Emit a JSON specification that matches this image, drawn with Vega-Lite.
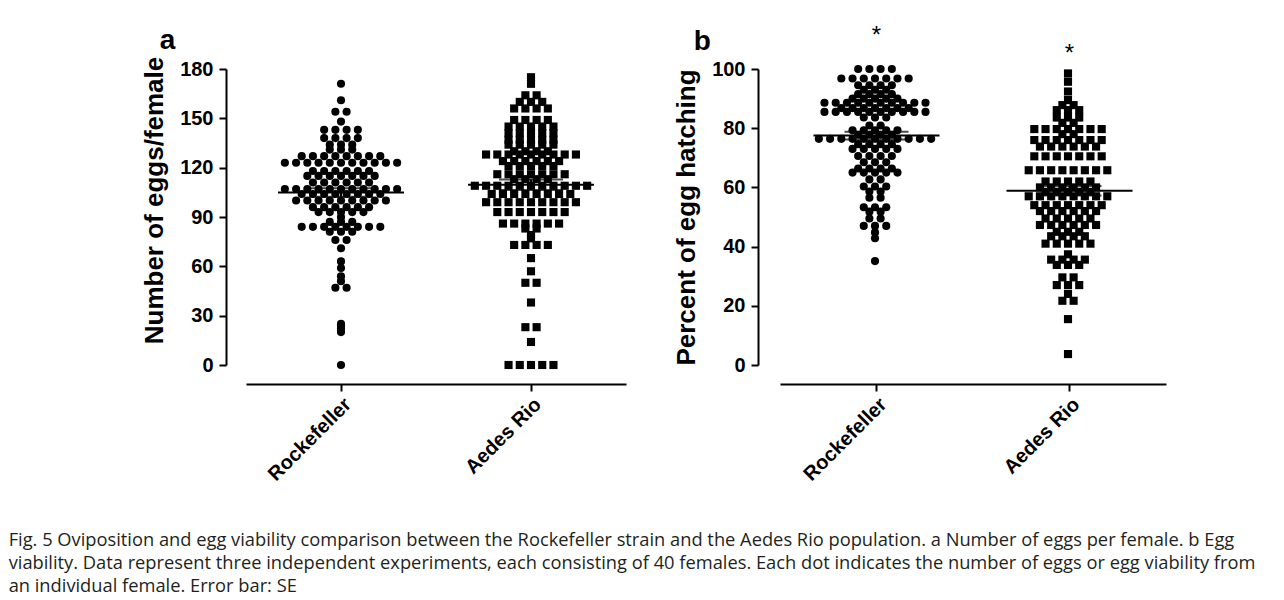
{
"$schema": "https://vega.github.io/schema/vega-lite/v6.json",
"background": "white",
"padding": {"left": 8, "top": 24, "right": 5, "bottom": 5},
"spacing": 47,
"config": {
  "view": {"stroke": null},
  "font": "Liberation Sans",
  "axis": {"domainColor": "black", "domainWidth": 2, "tickColor": "black", "tickWidth": 2, "tickSize": 7, "ticks": true, "labelFont": "Liberation Sans", "labelFontWeight": "bold", "labelFontSize": 20, "labelColor": "black", "titleFont": "Liberation Sans", "titleFontWeight": "bold", "titleFontSize": 26, "titleColor": "black", "grid": false},
  "axisX": {"labelAngle": -45, "offset": 19, "labelPadding": 3, "tickBand": "center", "ticks": true, "tickSize": 7},
  "axisY": {"labelPadding": 6, "titlePadding": 12}
},
"title": {
  "text": ["Fig. 5  Oviposition and egg viability comparison between the Rockefeller strain and the Aedes Rio population. a Number of eggs per female. b Egg", "viability. Data represent three independent experiments, each consisting of 40 females. Each dot indicates the number of eggs or egg viability from", "an individual female. Error bar: SE"],
  "orient": "bottom", "anchor": "start", "frame": "bounds", "font": "Open Sans", "fontSize": 18.3, "fontWeight": "normal", "color": "#231f20", "lineHeight": 23, "dx": -133, "offset": 48
},
"datasets": {
"eggs": [
{"group":"Rockefeller","eggs":171},{"group":"Rockefeller","eggs":161},{"group":"Rockefeller","eggs":154},{"group":"Rockefeller","eggs":154},{"group":"Rockefeller","eggs":148},
{"group":"Rockefeller","eggs":143},{"group":"Rockefeller","eggs":143},{"group":"Rockefeller","eggs":143},{"group":"Rockefeller","eggs":143},
{"group":"Rockefeller","eggs":138},{"group":"Rockefeller","eggs":138},{"group":"Rockefeller","eggs":138},{"group":"Rockefeller","eggs":138},
{"group":"Rockefeller","eggs":134},{"group":"Rockefeller","eggs":134},{"group":"Rockefeller","eggs":134},
{"group":"Rockefeller","eggs":131},{"group":"Rockefeller","eggs":131},{"group":"Rockefeller","eggs":131},
{"group":"Rockefeller","eggs":127},{"group":"Rockefeller","eggs":127},{"group":"Rockefeller","eggs":127},{"group":"Rockefeller","eggs":127},{"group":"Rockefeller","eggs":127},{"group":"Rockefeller","eggs":127},{"group":"Rockefeller","eggs":127},{"group":"Rockefeller","eggs":127},
{"group":"Rockefeller","eggs":123},{"group":"Rockefeller","eggs":123},{"group":"Rockefeller","eggs":123},{"group":"Rockefeller","eggs":123},{"group":"Rockefeller","eggs":123},{"group":"Rockefeller","eggs":123},{"group":"Rockefeller","eggs":123},{"group":"Rockefeller","eggs":123},{"group":"Rockefeller","eggs":123},{"group":"Rockefeller","eggs":123},{"group":"Rockefeller","eggs":123},
{"group":"Rockefeller","eggs":118},{"group":"Rockefeller","eggs":118},{"group":"Rockefeller","eggs":118},{"group":"Rockefeller","eggs":118},{"group":"Rockefeller","eggs":118},{"group":"Rockefeller","eggs":118},
{"group":"Rockefeller","eggs":115},{"group":"Rockefeller","eggs":115},{"group":"Rockefeller","eggs":115},{"group":"Rockefeller","eggs":115},{"group":"Rockefeller","eggs":115},{"group":"Rockefeller","eggs":115},{"group":"Rockefeller","eggs":115},
{"group":"Rockefeller","eggs":111},{"group":"Rockefeller","eggs":111},{"group":"Rockefeller","eggs":111},{"group":"Rockefeller","eggs":111},{"group":"Rockefeller","eggs":111},{"group":"Rockefeller","eggs":111},
{"group":"Rockefeller","eggs":107},{"group":"Rockefeller","eggs":107},{"group":"Rockefeller","eggs":107},{"group":"Rockefeller","eggs":107},{"group":"Rockefeller","eggs":107},{"group":"Rockefeller","eggs":107},{"group":"Rockefeller","eggs":107},{"group":"Rockefeller","eggs":107},{"group":"Rockefeller","eggs":107},{"group":"Rockefeller","eggs":107},{"group":"Rockefeller","eggs":107},
{"group":"Rockefeller","eggs":104},{"group":"Rockefeller","eggs":104},{"group":"Rockefeller","eggs":104},{"group":"Rockefeller","eggs":104},{"group":"Rockefeller","eggs":104},{"group":"Rockefeller","eggs":104},{"group":"Rockefeller","eggs":104},{"group":"Rockefeller","eggs":104},
{"group":"Rockefeller","eggs":100},{"group":"Rockefeller","eggs":100},{"group":"Rockefeller","eggs":100},{"group":"Rockefeller","eggs":100},{"group":"Rockefeller","eggs":100},{"group":"Rockefeller","eggs":100},{"group":"Rockefeller","eggs":100},{"group":"Rockefeller","eggs":100},{"group":"Rockefeller","eggs":100},
{"group":"Rockefeller","eggs":96},{"group":"Rockefeller","eggs":96},{"group":"Rockefeller","eggs":96},{"group":"Rockefeller","eggs":96},{"group":"Rockefeller","eggs":96},{"group":"Rockefeller","eggs":96},
{"group":"Rockefeller","eggs":93},{"group":"Rockefeller","eggs":93},{"group":"Rockefeller","eggs":93},{"group":"Rockefeller","eggs":93},{"group":"Rockefeller","eggs":93},
{"group":"Rockefeller","eggs":90},
{"group":"Rockefeller","eggs":87},{"group":"Rockefeller","eggs":87},{"group":"Rockefeller","eggs":87},
{"group":"Rockefeller","eggs":84},{"group":"Rockefeller","eggs":84},{"group":"Rockefeller","eggs":84},{"group":"Rockefeller","eggs":84},{"group":"Rockefeller","eggs":84},{"group":"Rockefeller","eggs":84},{"group":"Rockefeller","eggs":84},{"group":"Rockefeller","eggs":84},
{"group":"Rockefeller","eggs":81},{"group":"Rockefeller","eggs":81},{"group":"Rockefeller","eggs":81},
{"group":"Rockefeller","eggs":76},{"group":"Rockefeller","eggs":76},{"group":"Rockefeller","eggs":71},{"group":"Rockefeller","eggs":63},{"group":"Rockefeller","eggs":59},{"group":"Rockefeller","eggs":54},{"group":"Rockefeller","eggs":51},{"group":"Rockefeller","eggs":47},{"group":"Rockefeller","eggs":47},
{"group":"Rockefeller","eggs":25},{"group":"Rockefeller","eggs":24},{"group":"Rockefeller","eggs":22},{"group":"Rockefeller","eggs":20},{"group":"Rockefeller","eggs":0},
{"group":"Aedes Rio","eggs":175},{"group":"Aedes Rio","eggs":171},{"group":"Aedes Rio","eggs":164},{"group":"Aedes Rio","eggs":164},
{"group":"Aedes Rio","eggs":160},{"group":"Aedes Rio","eggs":160},{"group":"Aedes Rio","eggs":160},
{"group":"Aedes Rio","eggs":156},{"group":"Aedes Rio","eggs":156},{"group":"Aedes Rio","eggs":156},{"group":"Aedes Rio","eggs":156},
{"group":"Aedes Rio","eggs":149},{"group":"Aedes Rio","eggs":149},{"group":"Aedes Rio","eggs":149},{"group":"Aedes Rio","eggs":149},
{"group":"Aedes Rio","eggs":145},{"group":"Aedes Rio","eggs":145},{"group":"Aedes Rio","eggs":145},{"group":"Aedes Rio","eggs":145},{"group":"Aedes Rio","eggs":145},
{"group":"Aedes Rio","eggs":141},{"group":"Aedes Rio","eggs":141},{"group":"Aedes Rio","eggs":141},{"group":"Aedes Rio","eggs":141},{"group":"Aedes Rio","eggs":141},
{"group":"Aedes Rio","eggs":137},{"group":"Aedes Rio","eggs":137},{"group":"Aedes Rio","eggs":137},{"group":"Aedes Rio","eggs":137},{"group":"Aedes Rio","eggs":137},
{"group":"Aedes Rio","eggs":134},{"group":"Aedes Rio","eggs":134},{"group":"Aedes Rio","eggs":134},{"group":"Aedes Rio","eggs":134},{"group":"Aedes Rio","eggs":134},
{"group":"Aedes Rio","eggs":130},{"group":"Aedes Rio","eggs":130},{"group":"Aedes Rio","eggs":130},{"group":"Aedes Rio","eggs":130},
{"group":"Aedes Rio","eggs":128},{"group":"Aedes Rio","eggs":128},{"group":"Aedes Rio","eggs":128},{"group":"Aedes Rio","eggs":128},{"group":"Aedes Rio","eggs":128},{"group":"Aedes Rio","eggs":128},{"group":"Aedes Rio","eggs":128},{"group":"Aedes Rio","eggs":128},{"group":"Aedes Rio","eggs":128},
{"group":"Aedes Rio","eggs":124},{"group":"Aedes Rio","eggs":124},{"group":"Aedes Rio","eggs":124},{"group":"Aedes Rio","eggs":124},{"group":"Aedes Rio","eggs":124},{"group":"Aedes Rio","eggs":124},
{"group":"Aedes Rio","eggs":121},{"group":"Aedes Rio","eggs":121},{"group":"Aedes Rio","eggs":121},{"group":"Aedes Rio","eggs":121},{"group":"Aedes Rio","eggs":121},
{"group":"Aedes Rio","eggs":116},{"group":"Aedes Rio","eggs":116},{"group":"Aedes Rio","eggs":116},{"group":"Aedes Rio","eggs":116},{"group":"Aedes Rio","eggs":116},{"group":"Aedes Rio","eggs":116},{"group":"Aedes Rio","eggs":116},
{"group":"Aedes Rio","eggs":113},{"group":"Aedes Rio","eggs":113},{"group":"Aedes Rio","eggs":113},{"group":"Aedes Rio","eggs":113},
{"group":"Aedes Rio","eggs":109},{"group":"Aedes Rio","eggs":109},{"group":"Aedes Rio","eggs":109},{"group":"Aedes Rio","eggs":109},{"group":"Aedes Rio","eggs":109},{"group":"Aedes Rio","eggs":109},{"group":"Aedes Rio","eggs":109},{"group":"Aedes Rio","eggs":109},{"group":"Aedes Rio","eggs":109},{"group":"Aedes Rio","eggs":109},{"group":"Aedes Rio","eggs":109},
{"group":"Aedes Rio","eggs":104},{"group":"Aedes Rio","eggs":104},{"group":"Aedes Rio","eggs":104},{"group":"Aedes Rio","eggs":104},{"group":"Aedes Rio","eggs":104},{"group":"Aedes Rio","eggs":104},{"group":"Aedes Rio","eggs":104},{"group":"Aedes Rio","eggs":104},
{"group":"Aedes Rio","eggs":99},{"group":"Aedes Rio","eggs":99},{"group":"Aedes Rio","eggs":99},{"group":"Aedes Rio","eggs":99},{"group":"Aedes Rio","eggs":99},{"group":"Aedes Rio","eggs":99},{"group":"Aedes Rio","eggs":99},{"group":"Aedes Rio","eggs":99},{"group":"Aedes Rio","eggs":99},
{"group":"Aedes Rio","eggs":93},{"group":"Aedes Rio","eggs":93},{"group":"Aedes Rio","eggs":93},{"group":"Aedes Rio","eggs":93},{"group":"Aedes Rio","eggs":93},{"group":"Aedes Rio","eggs":93},{"group":"Aedes Rio","eggs":93},
{"group":"Aedes Rio","eggs":86},{"group":"Aedes Rio","eggs":86},{"group":"Aedes Rio","eggs":86},{"group":"Aedes Rio","eggs":86},{"group":"Aedes Rio","eggs":86},{"group":"Aedes Rio","eggs":86},
{"group":"Aedes Rio","eggs":83},{"group":"Aedes Rio","eggs":83},{"group":"Aedes Rio","eggs":79},{"group":"Aedes Rio","eggs":77},
{"group":"Aedes Rio","eggs":73},{"group":"Aedes Rio","eggs":73},{"group":"Aedes Rio","eggs":73},{"group":"Aedes Rio","eggs":73},
{"group":"Aedes Rio","eggs":65},{"group":"Aedes Rio","eggs":57},{"group":"Aedes Rio","eggs":50},{"group":"Aedes Rio","eggs":50},{"group":"Aedes Rio","eggs":38},{"group":"Aedes Rio","eggs":23},{"group":"Aedes Rio","eggs":23},{"group":"Aedes Rio","eggs":14},
{"group":"Aedes Rio","eggs":0},{"group":"Aedes Rio","eggs":0},{"group":"Aedes Rio","eggs":0},{"group":"Aedes Rio","eggs":0},{"group":"Aedes Rio","eggs":0}
],
"hatching": [
{"group":"Rockefeller","hatch":100},{"group":"Rockefeller","hatch":100},{"group":"Rockefeller","hatch":100},{"group":"Rockefeller","hatch":100},
{"group":"Rockefeller","hatch":96.8},{"group":"Rockefeller","hatch":96.8},{"group":"Rockefeller","hatch":96.8},{"group":"Rockefeller","hatch":96.8},{"group":"Rockefeller","hatch":96.8},{"group":"Rockefeller","hatch":96.8},{"group":"Rockefeller","hatch":96.8},
{"group":"Rockefeller","hatch":94.5},{"group":"Rockefeller","hatch":94.5},{"group":"Rockefeller","hatch":94.5},{"group":"Rockefeller","hatch":94.5},
{"group":"Rockefeller","hatch":93},{"group":"Rockefeller","hatch":93},{"group":"Rockefeller","hatch":93},
{"group":"Rockefeller","hatch":91.5},{"group":"Rockefeller","hatch":91.5},{"group":"Rockefeller","hatch":91.5},{"group":"Rockefeller","hatch":91.5},
{"group":"Rockefeller","hatch":90},{"group":"Rockefeller","hatch":90},{"group":"Rockefeller","hatch":90},{"group":"Rockefeller","hatch":90},{"group":"Rockefeller","hatch":90},
{"group":"Rockefeller","hatch":88.6},{"group":"Rockefeller","hatch":88.6},{"group":"Rockefeller","hatch":88.6},{"group":"Rockefeller","hatch":88.6},{"group":"Rockefeller","hatch":88.6},{"group":"Rockefeller","hatch":88.6},{"group":"Rockefeller","hatch":88.6},{"group":"Rockefeller","hatch":88.6},{"group":"Rockefeller","hatch":88.6},{"group":"Rockefeller","hatch":88.6},
{"group":"Rockefeller","hatch":86.8},{"group":"Rockefeller","hatch":86.8},{"group":"Rockefeller","hatch":86.8},{"group":"Rockefeller","hatch":86.8},{"group":"Rockefeller","hatch":86.8},{"group":"Rockefeller","hatch":86.8},{"group":"Rockefeller","hatch":86.8},
{"group":"Rockefeller","hatch":85.5},{"group":"Rockefeller","hatch":85.5},{"group":"Rockefeller","hatch":85.5},{"group":"Rockefeller","hatch":85.5},{"group":"Rockefeller","hatch":85.5},{"group":"Rockefeller","hatch":85.5},{"group":"Rockefeller","hatch":85.5},{"group":"Rockefeller","hatch":85.5},{"group":"Rockefeller","hatch":85.5},{"group":"Rockefeller","hatch":85.5},
{"group":"Rockefeller","hatch":83.6},{"group":"Rockefeller","hatch":83.6},{"group":"Rockefeller","hatch":83.6},
{"group":"Rockefeller","hatch":80.9},{"group":"Rockefeller","hatch":80.9},
{"group":"Rockefeller","hatch":79.3},{"group":"Rockefeller","hatch":79.3},{"group":"Rockefeller","hatch":79.3},{"group":"Rockefeller","hatch":79.3},{"group":"Rockefeller","hatch":79.3},
{"group":"Rockefeller","hatch":77.8},{"group":"Rockefeller","hatch":77.8},{"group":"Rockefeller","hatch":77.8},{"group":"Rockefeller","hatch":77.8},
{"group":"Rockefeller","hatch":76.4},{"group":"Rockefeller","hatch":76.4},{"group":"Rockefeller","hatch":76.4},{"group":"Rockefeller","hatch":76.4},{"group":"Rockefeller","hatch":76.4},{"group":"Rockefeller","hatch":76.4},{"group":"Rockefeller","hatch":76.4},{"group":"Rockefeller","hatch":76.4},{"group":"Rockefeller","hatch":76.4},{"group":"Rockefeller","hatch":76.4},{"group":"Rockefeller","hatch":76.4},
{"group":"Rockefeller","hatch":74.6},{"group":"Rockefeller","hatch":74.6},{"group":"Rockefeller","hatch":74.6},{"group":"Rockefeller","hatch":74.6},
{"group":"Rockefeller","hatch":73},{"group":"Rockefeller","hatch":73},{"group":"Rockefeller","hatch":73},{"group":"Rockefeller","hatch":73},{"group":"Rockefeller","hatch":73},
{"group":"Rockefeller","hatch":70.6},{"group":"Rockefeller","hatch":70.6},{"group":"Rockefeller","hatch":70.6},{"group":"Rockefeller","hatch":70.6},
{"group":"Rockefeller","hatch":68.5},{"group":"Rockefeller","hatch":68.5},{"group":"Rockefeller","hatch":68.5},
{"group":"Rockefeller","hatch":66.4},{"group":"Rockefeller","hatch":66.4},{"group":"Rockefeller","hatch":66.4},{"group":"Rockefeller","hatch":66.4},
{"group":"Rockefeller","hatch":65},{"group":"Rockefeller","hatch":65},{"group":"Rockefeller","hatch":65},{"group":"Rockefeller","hatch":65},{"group":"Rockefeller","hatch":65},
{"group":"Rockefeller","hatch":62.7},{"group":"Rockefeller","hatch":62.7},
{"group":"Rockefeller","hatch":60.3},{"group":"Rockefeller","hatch":60.3},{"group":"Rockefeller","hatch":60.3},
{"group":"Rockefeller","hatch":58.6},{"group":"Rockefeller","hatch":58.6},
{"group":"Rockefeller","hatch":56.5},{"group":"Rockefeller","hatch":56.5},
{"group":"Rockefeller","hatch":53.3},{"group":"Rockefeller","hatch":53.3},{"group":"Rockefeller","hatch":53.3},
{"group":"Rockefeller","hatch":51.8},{"group":"Rockefeller","hatch":51.8},
{"group":"Rockefeller","hatch":49.5},{"group":"Rockefeller","hatch":49.5},
{"group":"Rockefeller","hatch":47},{"group":"Rockefeller","hatch":47},{"group":"Rockefeller","hatch":47},
{"group":"Rockefeller","hatch":44.8},{"group":"Rockefeller","hatch":42.8},{"group":"Rockefeller","hatch":35.1},
{"group":"Aedes Rio","hatch":98.5},{"group":"Aedes Rio","hatch":95.7},{"group":"Aedes Rio","hatch":92.4},{"group":"Aedes Rio","hatch":89.5},
{"group":"Aedes Rio","hatch":87.8},{"group":"Aedes Rio","hatch":87.8},
{"group":"Aedes Rio","hatch":86.1},{"group":"Aedes Rio","hatch":86.1},{"group":"Aedes Rio","hatch":86.1},
{"group":"Aedes Rio","hatch":83.6},{"group":"Aedes Rio","hatch":83.6},{"group":"Aedes Rio","hatch":83.6},
{"group":"Aedes Rio","hatch":81.8},{"group":"Aedes Rio","hatch":81.8},
{"group":"Aedes Rio","hatch":79.7},{"group":"Aedes Rio","hatch":79.7},{"group":"Aedes Rio","hatch":79.7},{"group":"Aedes Rio","hatch":79.7},{"group":"Aedes Rio","hatch":79.7},{"group":"Aedes Rio","hatch":79.7},{"group":"Aedes Rio","hatch":79.7},
{"group":"Aedes Rio","hatch":78},{"group":"Aedes Rio","hatch":78},
{"group":"Aedes Rio","hatch":76},{"group":"Aedes Rio","hatch":76},{"group":"Aedes Rio","hatch":76},{"group":"Aedes Rio","hatch":76},{"group":"Aedes Rio","hatch":76},{"group":"Aedes Rio","hatch":76},{"group":"Aedes Rio","hatch":76},
{"group":"Aedes Rio","hatch":73.8},{"group":"Aedes Rio","hatch":73.8},{"group":"Aedes Rio","hatch":73.8},{"group":"Aedes Rio","hatch":73.8},{"group":"Aedes Rio","hatch":73.8},{"group":"Aedes Rio","hatch":73.8},
{"group":"Aedes Rio","hatch":70.5},{"group":"Aedes Rio","hatch":70.5},{"group":"Aedes Rio","hatch":70.5},{"group":"Aedes Rio","hatch":70.5},{"group":"Aedes Rio","hatch":70.5},{"group":"Aedes Rio","hatch":70.5},{"group":"Aedes Rio","hatch":70.5},
{"group":"Aedes Rio","hatch":65.8},{"group":"Aedes Rio","hatch":65.8},{"group":"Aedes Rio","hatch":65.8},{"group":"Aedes Rio","hatch":65.8},{"group":"Aedes Rio","hatch":65.8},{"group":"Aedes Rio","hatch":65.8},{"group":"Aedes Rio","hatch":65.8},{"group":"Aedes Rio","hatch":65.8},
{"group":"Aedes Rio","hatch":62},{"group":"Aedes Rio","hatch":62},{"group":"Aedes Rio","hatch":62},{"group":"Aedes Rio","hatch":62},{"group":"Aedes Rio","hatch":62},
{"group":"Aedes Rio","hatch":60},{"group":"Aedes Rio","hatch":60},{"group":"Aedes Rio","hatch":60},{"group":"Aedes Rio","hatch":60},{"group":"Aedes Rio","hatch":60},{"group":"Aedes Rio","hatch":60},
{"group":"Aedes Rio","hatch":58.5},{"group":"Aedes Rio","hatch":58.5},{"group":"Aedes Rio","hatch":58.5},{"group":"Aedes Rio","hatch":58.5},{"group":"Aedes Rio","hatch":58.5},
{"group":"Aedes Rio","hatch":57},{"group":"Aedes Rio","hatch":57},{"group":"Aedes Rio","hatch":57},{"group":"Aedes Rio","hatch":57},{"group":"Aedes Rio","hatch":57},{"group":"Aedes Rio","hatch":57},{"group":"Aedes Rio","hatch":57},{"group":"Aedes Rio","hatch":57},
{"group":"Aedes Rio","hatch":54},{"group":"Aedes Rio","hatch":54},{"group":"Aedes Rio","hatch":54},{"group":"Aedes Rio","hatch":54},{"group":"Aedes Rio","hatch":54},{"group":"Aedes Rio","hatch":54},{"group":"Aedes Rio","hatch":54},
{"group":"Aedes Rio","hatch":52},{"group":"Aedes Rio","hatch":52},{"group":"Aedes Rio","hatch":52},{"group":"Aedes Rio","hatch":52},{"group":"Aedes Rio","hatch":52},{"group":"Aedes Rio","hatch":52},
{"group":"Aedes Rio","hatch":49.5},{"group":"Aedes Rio","hatch":49.5},{"group":"Aedes Rio","hatch":49.5},{"group":"Aedes Rio","hatch":49.5},{"group":"Aedes Rio","hatch":49.5},
{"group":"Aedes Rio","hatch":47.3},{"group":"Aedes Rio","hatch":47.3},{"group":"Aedes Rio","hatch":47.3},{"group":"Aedes Rio","hatch":47.3},{"group":"Aedes Rio","hatch":47.3},{"group":"Aedes Rio","hatch":47.3},
{"group":"Aedes Rio","hatch":45},{"group":"Aedes Rio","hatch":45},{"group":"Aedes Rio","hatch":45},
{"group":"Aedes Rio","hatch":43.5},{"group":"Aedes Rio","hatch":43.5},{"group":"Aedes Rio","hatch":43.5},{"group":"Aedes Rio","hatch":43.5},
{"group":"Aedes Rio","hatch":41},{"group":"Aedes Rio","hatch":41},{"group":"Aedes Rio","hatch":41},{"group":"Aedes Rio","hatch":41},{"group":"Aedes Rio","hatch":41},
{"group":"Aedes Rio","hatch":37.4},
{"group":"Aedes Rio","hatch":35.6},{"group":"Aedes Rio","hatch":35.6},{"group":"Aedes Rio","hatch":35.6},{"group":"Aedes Rio","hatch":35.6},
{"group":"Aedes Rio","hatch":33.8},{"group":"Aedes Rio","hatch":33.8},{"group":"Aedes Rio","hatch":33.8},
{"group":"Aedes Rio","hatch":29.6},{"group":"Aedes Rio","hatch":29.6},
{"group":"Aedes Rio","hatch":27},{"group":"Aedes Rio","hatch":27},{"group":"Aedes Rio","hatch":27},
{"group":"Aedes Rio","hatch":24},{"group":"Aedes Rio","hatch":21.7},{"group":"Aedes Rio","hatch":21.7},{"group":"Aedes Rio","hatch":15.5},{"group":"Aedes Rio","hatch":3.7}
],
"stars": [
{"group":"Rockefeller","hatch":111,"label":"*"},
{"group":"Aedes Rio","hatch":105,"label":"*"}
]
},
"hconcat": [
{
  "width": 380, "height": 296,
  "title": {"text": "a", "anchor": "start", "frame": "bounds", "fontSize": 28, "fontWeight": "bold", "color": "black", "font": "Liberation Sans", "dx": 18, "dy": 3, "offset": 4},
  "data": {"name": "eggs"},
  "layer": [
    {
      "transform": [
        {"window": [{"op": "row_number", "as": "r"}, {"op": "count", "as": "n"}], "groupby": ["group", "eggs"], "frame": [null, null]},
        {"calculate": "(datum.r % 2 == 0 ? datum.r / 2 : -(datum.r - 1) / 2) - (datum.n % 2 == 0 ? 0.5 : 0)", "as": "off"}
      ],
      "mark": {"type": "point", "filled": true, "size": 66, "opacity": 1, "color": "black"},
      "encoding": {
        "x": {"field": "group", "type": "nominal", "sort": ["Rockefeller", "Aedes Rio"], "scale": {"paddingInner": 0, "paddingOuter": 0}, "title": null},
        "xOffset": {"field": "off", "type": "quantitative", "scale": {"domain": [-8.33, 8.33]}},
        "y": {"field": "eggs", "type": "quantitative", "scale": {"domain": [0, 180], "nice": false}, "axis": {"values": [0, 30, 60, 90, 120, 150, 180], "offset": 20, "titleY": 131}, "title": "Number of eggs/female"},
        "shape": {"field": "group", "type": "nominal", "scale": {"domain": ["Rockefeller", "Aedes Rio"], "range": ["circle", "square"]}, "legend": null}
      }
    },
    {
      "mark": {"type": "tick", "size": 126, "thickness": 2, "color": "black"},
      "encoding": {
        "x": {"field": "group", "type": "nominal", "sort": ["Rockefeller", "Aedes Rio"], "title": null},
        "y": {"aggregate": "mean", "field": "eggs", "type": "quantitative", "title": "Number of eggs/female"}
      }
    },
    {
      "mark": {"type": "errorbar", "extent": "stderr", "ticks": {"size": 64, "thickness": 2, "color": "black"}, "rule": {"strokeWidth": 2, "color": "black"}},
      "encoding": {
        "x": {"field": "group", "type": "nominal", "sort": ["Rockefeller", "Aedes Rio"], "title": null},
        "y": {"field": "eggs", "type": "quantitative", "title": "Number of eggs/female"}
      }
    }
  ]
},
{
  "width": 386, "height": 296,
  "title": {"text": "b", "anchor": "start", "frame": "bounds", "fontSize": 28, "fontWeight": "bold", "color": "black", "font": "Liberation Sans", "dx": 20, "dy": 36, "offset": 4},
  "layer": [
    {
      "data": {"name": "hatching"},
      "transform": [
        {"window": [{"op": "row_number", "as": "r"}, {"op": "count", "as": "n"}], "groupby": ["group", "hatch"], "frame": [null, null]},
        {"calculate": "(datum.r % 2 == 0 ? datum.r / 2 : -(datum.r - 1) / 2) - (datum.n % 2 == 0 ? 0.5 : 0)", "as": "off"}
      ],
      "mark": {"type": "point", "filled": true, "size": 66, "opacity": 1, "color": "black"},
      "encoding": {
        "x": {"field": "group", "type": "nominal", "sort": ["Rockefeller", "Aedes Rio"], "scale": {"paddingInner": 0, "paddingOuter": 0}, "title": null},
        "xOffset": {"field": "off", "type": "quantitative", "scale": {"domain": [-8.46, 8.46]}},
        "y": {"field": "hatch", "type": "quantitative", "scale": {"domain": [0, 100], "nice": false}, "axis": {"values": [0, 20, 40, 60, 80, 100], "offset": 22}, "title": "Percent of egg hatching"},
        "shape": {"field": "group", "type": "nominal", "scale": {"domain": ["Rockefeller", "Aedes Rio"], "range": ["circle", "square"]}, "legend": null}
      }
    },
    {
      "data": {"name": "hatching"},
      "mark": {"type": "tick", "size": 126, "thickness": 2, "color": "black"},
      "encoding": {
        "x": {"field": "group", "type": "nominal", "sort": ["Rockefeller", "Aedes Rio"], "title": null},
        "y": {"aggregate": "mean", "field": "hatch", "type": "quantitative", "title": "Percent of egg hatching"}
      }
    },
    {
      "data": {"name": "hatching"},
      "mark": {"type": "errorbar", "extent": "stderr", "ticks": {"size": 64, "thickness": 2, "color": "black"}, "rule": {"strokeWidth": 2, "color": "black"}},
      "encoding": {
        "x": {"field": "group", "type": "nominal", "sort": ["Rockefeller", "Aedes Rio"], "title": null},
        "y": {"field": "hatch", "type": "quantitative", "title": "Percent of egg hatching"}
      }
    },
    {
      "data": {"name": "stars"},
      "mark": {"type": "text", "font": "Liberation Sans", "fontSize": 24, "color": "black", "baseline": "middle"},
      "encoding": {
        "x": {"field": "group", "type": "nominal", "sort": ["Rockefeller", "Aedes Rio"], "title": null},
        "y": {"field": "hatch", "type": "quantitative", "title": "Percent of egg hatching"},
        "text": {"field": "label"}
      }
    }
  ]
}
]
}
